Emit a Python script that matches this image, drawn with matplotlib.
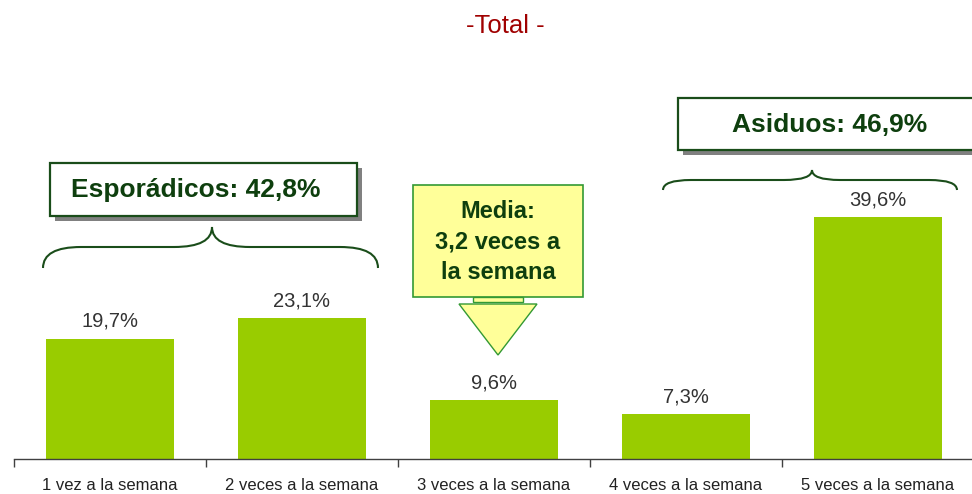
import matplotlib
matplotlib.use("Agg")
import matplotlib.pyplot as plt
from matplotlib.patches import Rectangle, Polygon, PathPatch
from matplotlib.path import Path
import numpy as np

plt.rcParams['font.family'] = ['Liberation Sans', 'DejaVu Sans']

categories = ["1 vez a la semana", "2 veces a la semana", "3 veces a la semana",
              "4 veces a la semana", "5 veces a la semana"]
values = [19.7, 23.1, 9.6, 7.3, 39.6]
value_labels = ["19,7%", "23,1%", "9,6%", "7,3%", "39,6%"]
title = "-Total -"
group_esp = "Esporádicos: 42,8%"
group_asi = "Asiduos: 46,9%"
media_text = "Media:\n3,2 veces a\nla semana"

W, H = 972, 494
fig = plt.figure(figsize=(W / 100, H / 100), dpi=100)
ax = fig.add_axes([14 / W, 35 / H, 960 / W, 459 / H])

x = np.arange(len(values))
ax.bar(x, values, width=2 / 3, color="#99CC00", zorder=2)
ax.set_xlim(-0.5, 4.5)
ax.set_ylim(0, 75.25)
for xi, v, lab in zip(x, values, value_labels):
    ax.annotate(lab, (xi, v), xytext=(0, 8.6), textcoords="offset points",
                ha="center", va="baseline", fontsize=14.5, color="#333333")

for s in ["top", "right", "left"]:
    ax.spines[s].set_visible(False)
ax.spines["bottom"].set_color("#404040")
ax.spines["bottom"].set_linewidth(1.0)
ax.set_yticks([])
ax.set_xticks(x)
ax.set_xticklabels(categories, fontsize=12, color="#222222")
ax.tick_params(axis="x", which="major", length=0, pad=14)
ax.set_xticks(np.arange(-0.5, 5.0, 1.0), minor=True)
ax.tick_params(axis="x", which="minor", length=6, color="#404040", width=1.0)

# overlay in pixel coordinates for the annotations
ov = fig.add_axes([0, 0, 1, 1], zorder=5)
ov.set_xlim(0, W)
ov.set_ylim(H, 0)
ov.axis("off")
ov.patch.set_alpha(0)

ov.text(505, 26, title, ha="center", va="center", fontsize=18.5, color="#A00000")

green_dark = "#0E3F0E"
edge = "#1A4D1A"


def label_box(x0, y0, x1, y1, text, tx, ty):
    ov.add_patch(Rectangle((x0 + 5, y0 + 5), x1 - x0, y1 - y0, facecolor="#808080",
                           edgecolor="none", zorder=1))
    ov.add_patch(Rectangle((x0, y0), x1 - x0, y1 - y0, facecolor="white",
                           edgecolor=edge, linewidth=1.6, zorder=2))
    ov.text(tx, ty, text, ha="center", va="center", fontsize=19, fontweight="bold",
            color=green_dark, zorder=3)


def brace(x0, x1, xc, ytip, yarm, yend, r):
    verts = [(x0, yend), (x0, yarm), (x0 + r, yarm),
             (xc - r, yarm), (xc, yarm), (xc, ytip),
             (xc, yarm), (xc + r, yarm),
             (x1 - r, yarm), (x1, yarm), (x1, yend)]
    codes = [Path.MOVETO, Path.CURVE3, Path.CURVE3,
             Path.LINETO, Path.CURVE3, Path.CURVE3,
             Path.CURVE3, Path.CURVE3,
             Path.LINETO, Path.CURVE3, Path.CURVE3]
    ov.add_patch(PathPatch(Path(verts, codes), facecolor="none", edgecolor=edge,
                           linewidth=1.5))


label_box(50, 163, 357, 216, group_esp, 196, 190)
brace(43, 378, 212, 227, 247, 268, 38)

label_box(678, 98, 1000, 150, group_asi, 830, 125)
brace(663, 957, 812, 170, 180, 190, 28)

# media callout
ov.add_patch(Rectangle((413, 185), 170, 112, facecolor="#FFFF99",
                       edgecolor="#339933", linewidth=1.2))
ov.add_patch(Rectangle((473, 297), 50, 5, facecolor="#FFFF99",
                       edgecolor="#339933", linewidth=1.0))
ov.add_patch(Polygon([(459, 304), (537, 304), (498, 355)], closed=True,
                     facecolor="#FFFF99", edgecolor="#339933", linewidth=1.0))
ov.text(498, 242, media_text, ha="center", va="center", fontsize=17,
        fontweight="bold", color=green_dark, linespacing=1.4)

fig.savefig("out.png", dpi=100)
